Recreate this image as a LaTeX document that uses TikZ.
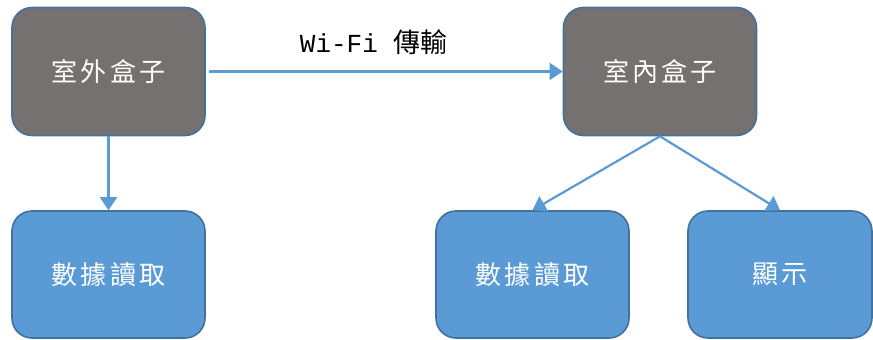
\documentclass[tikz,border=0pt]{standalone}
\usepackage{fontspec}
\newfontfamily\cjk[LetterSpace=12]{Noto Sans CJK TC}
\newfontfamily\cjklabel{Noto Sans CJK TC}
\newfontfamily\monolabel{Liberation Mono}
\usetikzlibrary{arrows.meta}
\definecolor{boxgray}{HTML}{767171}
\definecolor{boxblue}{HTML}{5B9BD5}
\definecolor{boxline}{HTML}{41719C}
\definecolor{arrowblue}{HTML}{5B9BD5}
\tikzset{
  boxbase/.style={draw=boxline, line width=1.6pt, rounded corners=20pt, minimum height=128pt, text=white, font=\cjk\fontsize{26}{30}\selectfont, inner sep=0pt},
  graybox/.style={boxbase, fill=boxgray},
  bluebox/.style={boxbase, fill=boxblue},
  conn/.style={draw=arrowblue, line width=2.2pt, -{Triangle[length=13pt,width=17pt]}}
}
\begin{document}
\begin{tikzpicture}[x=1pt,y=-1pt]
\useasboundingbox (0,0) rectangle (873,340);
\node[graybox, minimum width=193pt] (outdoor) at (108.5,71.5) {室外盒子};
\node[graybox, minimum width=193pt] (indoor) at (660,71.5) {室內盒子};
\node[bluebox, minimum width=193pt, minimum height=127pt] (readL) at (108.5,274.5) {數據讀取};
\node[bluebox, minimum width=193pt, minimum height=127pt] (readM) at (532.5,274.5) {數據讀取};
\node[bluebox, minimum width=184pt, minimum height=127pt] (disp) at (780,274.5) {顯示};
\draw[conn] ([xshift=3pt]outdoor.east) -- node[above=16pt, xshift=-12pt, text=black, inner sep=0pt] {\monolabel\fontsize{26}{30}\selectfont Wi-Fi \cjklabel\fontsize{27}{30}\selectfont 傳輸} (indoor.west);
\draw[conn] (outdoor.south) -- (readL.north);
\draw[conn] (indoor.south) -- (readM.north);
\draw[conn] (indoor.south) -- (disp.north);
\end{tikzpicture}
\end{document}
